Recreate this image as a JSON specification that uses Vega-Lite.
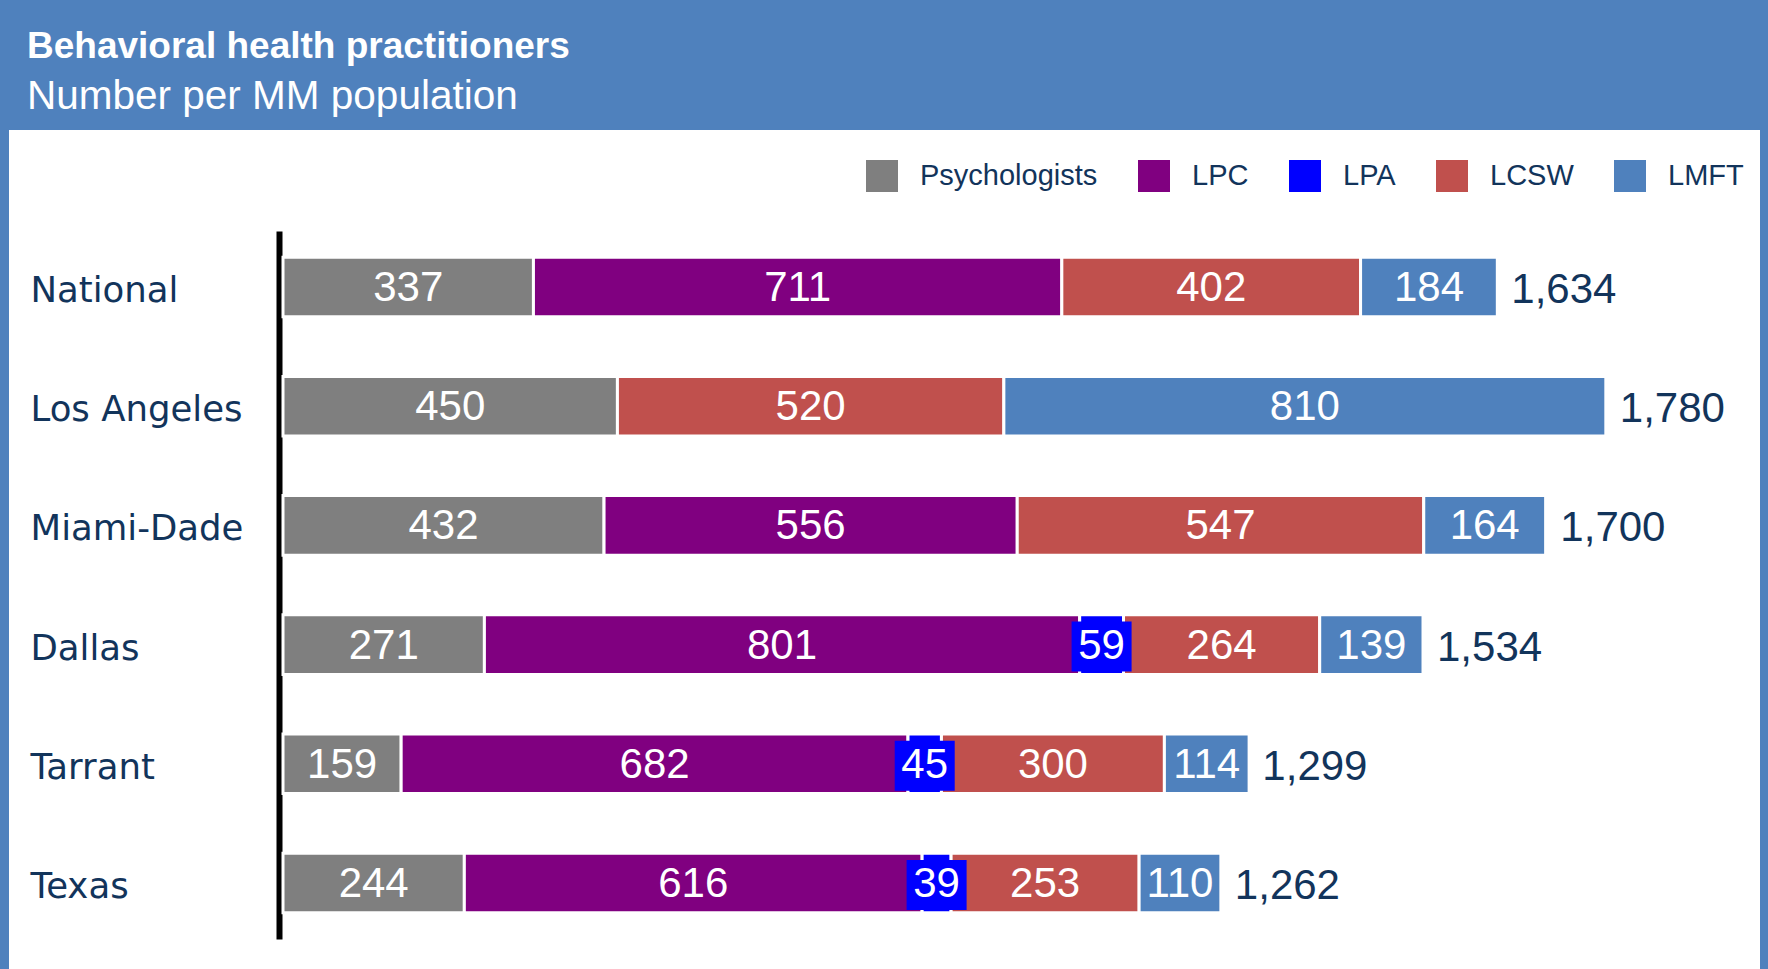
{
  "$schema": "https://vega.github.io/schema/vega-lite/v6.json",
  "width": 1751,
  "height": 839,
  "autosize": {"type": "none"},
  "padding": {"left": 9, "top": 130, "right": 8, "bottom": 0},
  "background": "#4F81BD",
  "title": {
    "text": "Behavioral health practitioners",
    "subtitle": "Number per MM population",
    "anchor": "start",
    "frame": "group",
    "dx": 18,
    "offset": 12,
    "font": "Liberation Sans",
    "fontSize": 37,
    "fontWeight": "bold",
    "color": "white",
    "subtitleFont": "Liberation Sans",
    "subtitleFontSize": 40.5,
    "subtitleColor": "white",
    "subtitlePadding": 11
  },
  "config": {"view": {"fill": "white", "stroke": null}},
  "datasets": {
    "segs": [
      {"region": "National", "type": "Psychologists", "value": 337, "ord": 1},
      {"region": "National", "type": "LPC", "value": 711, "ord": 2},
      {"region": "National", "type": "LCSW", "value": 402, "ord": 4},
      {"region": "National", "type": "LMFT", "value": 184, "ord": 5},
      {"region": "Los Angeles", "type": "Psychologists", "value": 450, "ord": 1},
      {"region": "Los Angeles", "type": "LCSW", "value": 520, "ord": 4},
      {"region": "Los Angeles", "type": "LMFT", "value": 810, "ord": 5},
      {"region": "Miami-Dade", "type": "Psychologists", "value": 432, "ord": 1},
      {"region": "Miami-Dade", "type": "LPC", "value": 556, "ord": 2},
      {"region": "Miami-Dade", "type": "LCSW", "value": 547, "ord": 4},
      {"region": "Miami-Dade", "type": "LMFT", "value": 164, "ord": 5},
      {"region": "Dallas", "type": "Psychologists", "value": 271, "ord": 1},
      {"region": "Dallas", "type": "LPC", "value": 801, "ord": 2},
      {"region": "Dallas", "type": "LPA", "value": 59, "ord": 3},
      {"region": "Dallas", "type": "LCSW", "value": 264, "ord": 4},
      {"region": "Dallas", "type": "LMFT", "value": 139, "ord": 5},
      {"region": "Tarrant", "type": "Psychologists", "value": 159, "ord": 1},
      {"region": "Tarrant", "type": "LPC", "value": 682, "ord": 2},
      {"region": "Tarrant", "type": "LPA", "value": 45, "ord": 3},
      {"region": "Tarrant", "type": "LCSW", "value": 300, "ord": 4},
      {"region": "Tarrant", "type": "LMFT", "value": 114, "ord": 5},
      {"region": "Texas", "type": "Psychologists", "value": 244, "ord": 1},
      {"region": "Texas", "type": "LPC", "value": 616, "ord": 2},
      {"region": "Texas", "type": "LPA", "value": 39, "ord": 3},
      {"region": "Texas", "type": "LCSW", "value": 253, "ord": 4},
      {"region": "Texas", "type": "LMFT", "value": 110, "ord": 5}
    ],
    "totals": [
      {"region": "National", "total": 1634},
      {"region": "Los Angeles", "total": 1780},
      {"region": "Miami-Dade", "total": 1700},
      {"region": "Dallas", "total": 1534},
      {"region": "Tarrant", "total": 1299},
      {"region": "Texas", "total": 1262}
    ]
  },
  "encoding": {
    "y": {
      "field": "region",
      "type": "nominal",
      "sort": ["National", "Los Angeles", "Miami-Dade", "Dallas", "Tarrant", "Texas"],
      "scale": {
        "domain": ["National", "Los Angeles", "Miami-Dade", "Dallas", "Tarrant", "Texas"],
        "range": [101, 809],
        "paddingInner": 0.5,
        "paddingOuter": 0.22
      },
      "axis": {
        "title": null,
        "orient": "left",
        "offset": -270,
        "domain": true,
        "domainColor": "black",
        "domainWidth": 6,
        "ticks": false,
        "tickSize": 0,
        "grid": false,
        "labelAlign": "left",
        "labelPadding": 249,
        "labelOffset": 4,
        "labelLimit": 0,
        "labelFont": "DejaVu Sans",
        "labelFontSize": 35.5,
        "labelColor": "#12345B"
      }
    }
  },
  "layer": [
    {
      "data": {"name": "segs"},
      "transform": [
        {"stack": "value", "groupby": ["region"], "sort": [{"field": "ord", "order": "ascending"}], "as": ["x0", "x1"]}
      ],
      "mark": {"type": "bar", "stroke": "white", "strokeWidth": 3},
      "encoding": {
        "x": {"field": "x0", "type": "quantitative", "scale": {"domain": [0, 1900], "range": [274, 1686], "nice": false}, "axis": null},
        "x2": {"field": "x1"},
        "color": {
          "field": "type",
          "type": "nominal",
          "scale": {
            "domain": ["Psychologists", "LPC", "LPA", "LCSW", "LMFT"],
            "range": ["#7F7F7F", "#800080", "#0000FF", "#C0504D", "#4F81BD"]
          },
          "legend": {
            "title": null,
            "orient": "none",
            "legendX": 857,
            "legendY": 30,
            "direction": "horizontal",
            "padding": 0,
            "symbolType": "square",
            "symbolSize": 1024,
            "symbolStrokeWidth": 0,
            "symbolOpacity": 1,
            "labelFont": "Liberation Sans",
            "labelFontSize": 29,
            "labelLimit": 0,
            "labelColor": "#12345B",
            "labelOffset": 22,
            "columnPadding": 40
          }
        }
      }
    },
    {
      "data": {"name": "segs"},
      "transform": [
        {"stack": "value", "groupby": ["region"], "sort": [{"field": "ord", "order": "ascending"}], "as": ["x0", "x1"]},
        {"filter": "datum.type === 'LPA'"},
        {"calculate": "(datum.x0 + datum.x1) / 2", "as": "mid"}
      ],
      "mark": {"type": "point", "shape": "M-1.2,-1L1.2,-1L1.2,1L-1.2,1Z", "filled": true, "size": 2500, "color": "#0000FF", "opacity": 1, "strokeWidth": 0, "yOffset": 2},
      "encoding": {
        "x": {"field": "mid", "type": "quantitative", "scale": {"domain": [0, 1900], "range": [274, 1686], "nice": false}, "axis": null}
      }
    },
    {
      "data": {"name": "segs"},
      "transform": [
        {"stack": "value", "groupby": ["region"], "sort": [{"field": "ord", "order": "ascending"}], "as": ["x0", "x1"]},
        {"calculate": "(datum.x0 + datum.x1) / 2", "as": "mid"}
      ],
      "mark": {"type": "text", "font": "Liberation Sans", "fontSize": 42, "color": "white", "align": "center", "baseline": "middle", "dy": 1},
      "encoding": {
        "x": {"field": "mid", "type": "quantitative", "scale": {"domain": [0, 1900], "range": [274, 1686], "nice": false}, "axis": null},
        "text": {"field": "value", "type": "quantitative", "format": "d"}
      }
    },
    {
      "data": {"name": "totals"},
      "mark": {"type": "text", "font": "Liberation Sans", "fontSize": 42, "color": "#12345B", "align": "left", "baseline": "middle", "dx": 14, "dy": 3},
      "encoding": {
        "x": {"field": "total", "type": "quantitative", "scale": {"domain": [0, 1900], "range": [274, 1686], "nice": false}, "axis": null},
        "text": {"field": "total", "type": "quantitative", "format": ","}
      }
    }
  ]
}
